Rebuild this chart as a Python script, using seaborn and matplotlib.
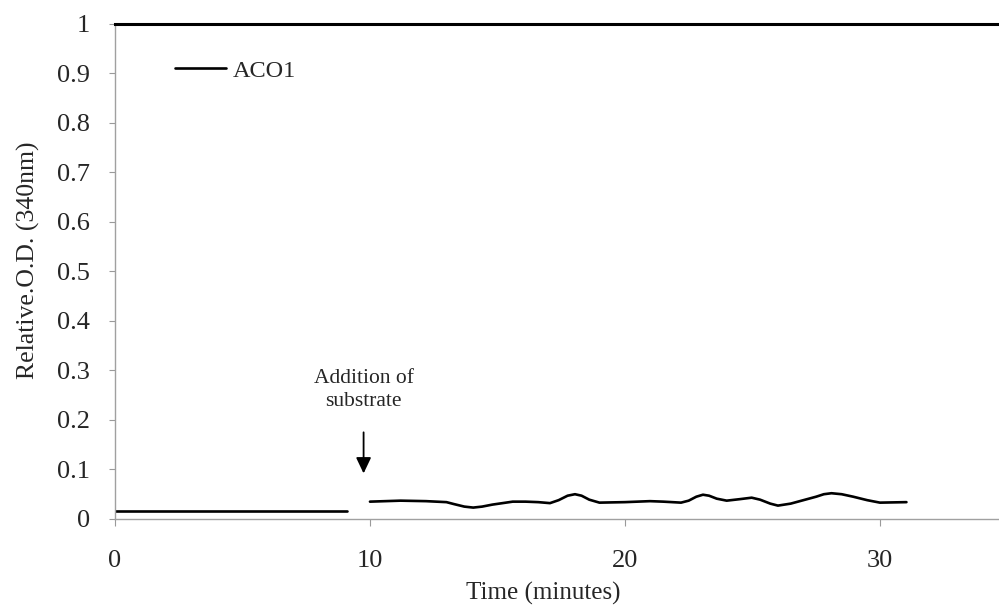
import matplotlib
matplotlib.use("Agg")
import matplotlib.pyplot as plt
import seaborn as sns
import pandas as pd

# Baseline before substrate is added
time_before = [0.0, 9.1]
od_before = [0.016, 0.016]

# Trace after substrate addition
time_after = [10.0, 10.6, 11.2, 12.2, 13.0, 13.3, 13.7, 14.05, 14.4, 14.8, 15.6, 16.1, 16.6, 17.06,
              17.4, 17.75, 18.04, 18.3, 18.6, 19.0, 20.0, 20.98, 21.5, 22.2, 22.5, 22.8, 23.06,
              23.3, 23.6, 23.99, 24.5, 24.97, 25.3, 25.7, 26.0, 26.5, 27.0, 27.5, 27.8, 28.1,
              28.5, 28.95, 29.5, 30.0, 31.04]
od_after = [0.035, 0.036, 0.037, 0.036, 0.034, 0.030, 0.025, 0.023, 0.025, 0.029, 0.035, 0.035,
            0.034, 0.032, 0.038, 0.047, 0.050, 0.047, 0.039, 0.033, 0.034, 0.036, 0.035, 0.033,
            0.037, 0.045, 0.049, 0.047, 0.041, 0.037, 0.040, 0.043, 0.039, 0.031, 0.027, 0.031,
            0.038, 0.045, 0.050, 0.052, 0.050, 0.045, 0.038, 0.033, 0.034]

x_ticks = [0, 10, 20, 30]
y_ticks = [0, 0.1, 0.2, 0.3, 0.4, 0.5, 0.6, 0.7, 0.8, 0.9, 1.0]
y_tick_labels = ["0", "0.1", "0.2", "0.3", "0.4", "0.5", "0.6", "0.7", "0.8", "0.9", "1"]
series_name = "ACO1"

sns.set_theme(style="white")
plt.rcParams["font.family"] = ["Liberation Serif", "DejaVu Serif"]

df_before = pd.DataFrame({"time": time_before, "od": od_before})
df_after = pd.DataFrame({"time": time_after, "od": od_after})

fig = plt.figure(figsize=(9.99, 6.12), dpi=100)
ax = fig.add_axes([0.1151, 0.152, 0.8849, 0.809])

sns.lineplot(data=df_before, x="time", y="od", ax=ax, color="black", linewidth=1.9)
sns.lineplot(data=df_after, x="time", y="od", ax=ax, color="black", linewidth=1.9)

ax.set_xlim(0, 34.67)
ax.set_ylim(0, 1.0)
ax.set_xticks(x_ticks)
ax.set_xticklabels([str(t) for t in x_ticks])
ax.set_yticks(y_ticks)
ax.set_yticklabels(y_tick_labels)

ax.tick_params(axis="x", direction="out", length=5, width=0.8, color="#9a9a9a",
               labelsize=19, pad=17, bottom=True)
ax.tick_params(axis="y", direction="out", length=4, width=0.8, color="#9a9a9a",
               labelsize=19, pad=14, left=True)

for side in ("left", "bottom"):
    ax.spines[side].set_color("#a0a0a0")
    ax.spines[side].set_linewidth(1.0)
    ax.spines[side].set_linestyle((0, (2, 1)))
ax.spines["top"].set_color("black")
ax.spines["top"].set_linewidth(2.2)
ax.spines["right"].set_visible(False)

ax.set_xlabel("Time (minutes)", fontsize=18)
ax.set_ylabel("Relative.O.D. (340nm)", fontsize=18.5)
ax.xaxis.set_label_coords((543 - 115) / 884, -0.128)
ax.yaxis.set_label_coords(-0.085, 0.523)

# Substrate addition marker
ax.annotate("", xy=(9.75, 0.092), xytext=(9.75, 0.175),
            arrowprops=dict(arrowstyle="-|>,head_length=0.8,head_width=0.38",
                            color="black", lw=1.3, shrinkA=0, shrinkB=0))
ax.text(9.75, 0.26, "Addition of\nsubstrate", ha="center", va="center",
        fontsize=15.5, linespacing=1.3)

handle = ax.get_lines()[0]
leg = ax.legend([handle], [series_name], loc="upper left",
                bbox_to_anchor=(0.043, 0.972), frameon=False, fontsize=17.5,
                handlelength=2.1, handletextpad=0.3)

fig.savefig("out.png", dpi=100)
